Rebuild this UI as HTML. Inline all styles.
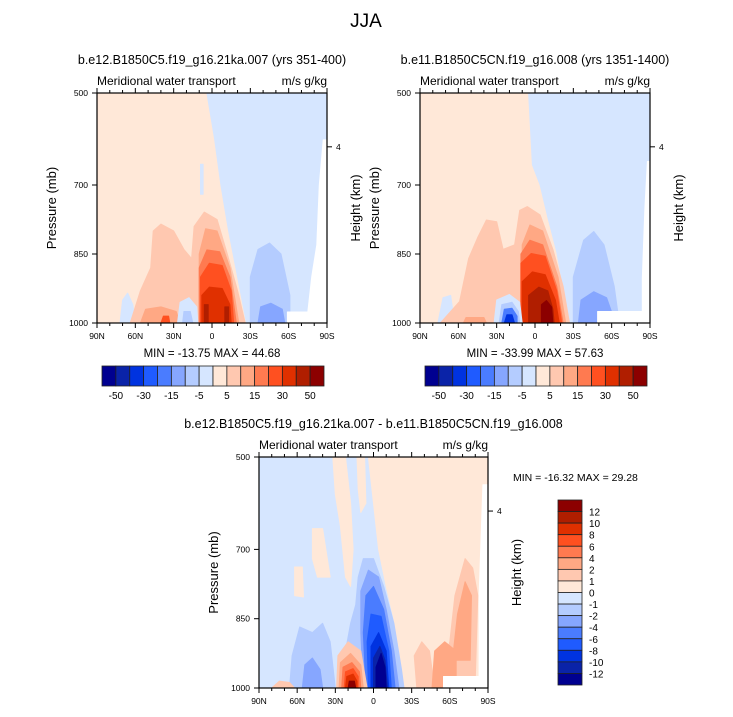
<!DOCTYPE html>
<html><head><meta charset="utf-8"><style>
body{margin:0;background:#fff;width:733px;height:712px;overflow:hidden}
svg{font-family:"Liberation Sans",Arial,sans-serif}
</style></head><body>
<svg id="s" width="733" height="712" xmlns="http://www.w3.org/2000/svg">
<text x="366" y="27" font-size="19" text-anchor="middle">JJA</text>
</svg>
<script>
const colors=["#000090","#0a23a8","#0033e0","#1f5bff","#4a7cff","#86a6ff","#b4ccff","#d6e6ff","#ffe8d8","#ffc8b0","#ffa884","#ff7a50","#ff5020","#e03000","#b01e00","#8c0000"];
const hLevels=["-50","-30","-15","-5","5","15","30","50"];
const vLevels=["12","10","8","6","4","2","1","0","-1","-2","-4","-6","-8","-10","-12"];
const latTicks=[90,60,30,0,-30,-60,-90];
const latLabels=["90N","60N","30N","0","30S","60S","90S"];
const pTicks=[500,700,850,1000];
// contour polygons: [level, [[lat,p],...]]
const field1=[
[8,[[90,500],[-90,500],[-90,1000],[90,1000]]],
[7,[[4,500],[-90,500],[-90,1000],[-27,1000],[-20,900],[-13,800],[-7,700],[-2,600],[4,500]]],
[7,[[9,655],[7,655],[7,720],[9,720]]],
[6,[[-30,1000],[-30,900],[-36,840],[-45,826],[-54,850],[-61,940],[-61,1000]]],
[5,[[-36,1000],[-38,965],[-46,957],[-55,970],[-57,1000]]],
[7,[[72,1000],[70,950],[66,935],[62,960],[60,1000]]],
[9,[[64,1000],[56,930],[48,880],[46,800],[40,785],[30,800],[22,840],[16,860],[14,790],[6,759],[-4,775],[-12,850],[-20,930],[-26,1000]]],
[10,[[56,1000],[52,970],[40,965],[28,975],[25,1000]]],
[10,[[10,1000],[10,850],[5,795],[-4,800],[-14,880],[-21,1000]]],
[11,[[10,1000],[10,880],[4,841],[-6,845],[-14,900],[-19,1000]]],
[12,[[9,1000],[9,900],[2,870],[-8,875],[-15,930],[-17,1000]]],
[13,[[8,1000],[8,940],[2,922],[-8,925],[-14,960],[-15,1000]]],
[14,[[6,1000],[6,960],[3,960],[3,1000]]],
[14,[[-10,1000],[-10,965],[-13,965],[-13,1000]]],
[7,[[27,1000],[25,955],[18,945],[12,965],[11,1000]]],
[6,[[23,1000],[22,975],[17,975],[15,1000]]],
[12,[[40,1000],[38,985],[34,985],[33,1000]]],
[-1,[[-87,602],[-90,602],[-90,1000],[-59,1000],[-59,976],[-75,976],[-78,900],[-82,830],[-84,700]]]
];
const field2=[
[8,[[90,500],[-90,500],[-90,1000],[90,1000]]],
[7,[[5,500],[-90,500],[-90,1000],[-27,1000],[-22,920],[-17,845],[-10,770],[-4,700],[2,656],[5,500]]],
[6,[[-30,1000],[-30,900],[-38,820],[-46,801],[-54,830],[-62,920],[-66,1000]]],
[5,[[-34,1000],[-36,950],[-46,932],[-56,945],[-63,1000]]],
[7,[[76,1000],[72,945],[66,940],[63,1000]]],
[9,[[74,1000],[59,953],[52,860],[45,815],[38,776],[30,780],[25,840],[16,830],[12,755],[6,747],[-4,765],[-14,840],[-22,920],[-27,1000]]],
[10,[[56,1000],[54,988],[40,988],[38,1000]]],
[10,[[10,1000],[10,830],[4,787],[-6,800],[-18,900],[-24,1000]]],
[11,[[11,1000],[11,850],[4,820],[-6,830],[-17,920],[-22,1000]]],
[12,[[11,1000],[11,870],[3,849],[-8,855],[-17,930],[-21,1000]]],
[13,[[10,1000],[10,910],[2,889],[-8,895],[-16,950],[-19,1000]]],
[14,[[5,1000],[5,940],[-3,922],[-10,930],[-14,970],[-15,1000]]],
[15,[[-5,1000],[-5,960],[-9,951],[-13,965],[-14,1000]]],
[7,[[32,1000],[30,950],[20,938],[12,955],[10,1000]]],
[6,[[28,1000],[26,960],[18,955],[13,975],[12,1000]]],
[4,[[26,1000],[24,970],[18,968],[14,985],[14,1000]]],
[2,[[24,1000],[22,982],[18,982],[16,1000]]],
[-1,[[-49,975],[-90,975],[-90,1000],[-49,1000]]],
[-1,[[-88,649],[-90,649],[-90,1000],[-84,1000],[-84,903],[-86,750]]]
];
const field3=[
[7,[[90,500],[-90,500],[-90,1000],[90,1000]]],
[8,[[4,500],[-90,500],[-90,1000],[-22,1000],[-20,950],[-16,850],[-10,780],[-4,700],[0,600],[4,500]]],
[8,[[32,500],[22,500],[18,600],[16,700],[18,780],[22,760],[26,650],[30,580]]],
[8,[[13,500],[7,500],[6,600],[10,620],[12,570]]],
[8,[[48,655],[40,655],[34,760],[44,760],[48,720]]],
[8,[[62,738],[56,738],[55,803],[62,800]]],
[9,[[-34,1000],[-32,930],[-38,900],[-44,920],[-48,1000]]],
[9,[[-50,1000],[-60,900],[-64,800],[-72,720],[-78,740],[-82,800],[-80,980],[-70,1000]]],
[10,[[-46,1000],[-48,920],[-56,900],[-65,920],[-65,1000]]],
[10,[[-62,940],[-66,840],[-72,770],[-77,800],[-76,940]]],
[6,[[66,1000],[64,930],[58,868],[48,880],[40,860],[34,900],[30,1000]]],
[5,[[56,1000],[54,950],[48,935],[42,960],[40,1000]]],
[6,[[20,1000],[22,920],[18,860],[14,820],[12,760],[8,720],[0,720],[-8,780],[-16,860],[-22,960],[-24,1000]]],
[5,[[8,1000],[10,880],[10,790],[4,745],[-4,760],[-10,830],[-16,920],[-20,1000]]],
[4,[[6,1000],[8,880],[6,800],[0,780],[-8,830],[-14,920],[-17,1000]]],
[3,[[4,1000],[5,900],[2,840],[-6,845],[-12,920],[-14,1000]]],
[2,[[2,1000],[2,910],[-4,880],[-10,920],[-12,1000]]],
[1,[[0,1000],[0,935],[-5,910],[-9,940],[-11,1000]]],
[0,[[-2,1000],[-2,955],[-6,925],[-9,955],[-10,1000]]],
[9,[[29,1000],[28,930],[20,900],[10,920],[5,1000]]],
[10,[[27,1000],[26,945],[18,925],[10,950],[8,1000]]],
[11,[[25,1000],[24,955],[17,945],[11,965],[10,1000]]],
[12,[[23,1000],[22,965],[16,958],[12,975],[12,1000]]],
[13,[[22,1000],[21,975],[16,970],[13,985],[13,1000]]],
[15,[[20,1000],[19,985],[15,985],[14,1000]]],
[9,[[80,1000],[74,985],[66,988],[62,1000]]],
[-1,[[-55,975],[-90,975],[-90,1000],[-55,1000]]],
[-1,[[-86,560],[-90,560],[-90,1000],[-83,1000],[-83,800]]]
];
const NS="http://www.w3.org/2000/svg";
const svg=document.getElementById('s');
function el(t,a,parent){const e=document.createElementNS(NS,t);for(const k in a)e.setAttribute(k,a[k]);(parent||svg).appendChild(e);return e;}
function txt(x,y,s,size,anchor,parent){const e=el('text',{x:x,y:y,'font-size':size,'text-anchor':anchor||'middle'},parent);e.textContent=s;return e;}
function panel(name,X0,Y0,W,H,field,title,mm){
  const g=el('g',{});
  
  
  const xs=lat=>X0+(90-lat)/180*W;
  const ys=p=>Y0+(p-500)/500*H;
  field.forEach(f=>{
    const pts=f[1].map(q=>xs(q[0]).toFixed(1)+','+ys(q[1]).toFixed(1)).join(' ');
    const c=f[0]<0?'#fff':colors[f[0]];
    const pg=el('polygon',{points:pts,fill:c,stroke:c,'stroke-width':1,'stroke-linejoin':'round'},g);
    
    
  });
  el('rect',{x:X0,y:Y0,width:W,height:H,fill:'none',stroke:'#000','stroke-width':1.2},g);
  for(let l=90;l>=-90;l-=10){const x=xs(l);const big=l%30===0;
    el('line',{x1:x,x2:x,y1:Y0+H,y2:Y0+H+(big?5:3),stroke:'#000'},g);
    el('line',{x1:x,x2:x,y1:Y0,y2:Y0-(big?5:3),stroke:'#000'},g);}
  latTicks.forEach((l,i)=>{const t=txt(xs(l),Y0+H+16,latLabels[i],8.5,'middle',g);});
  pTicks.forEach(p=>{el('line',{x1:X0-5,x2:X0,y1:ys(p),y2:ys(p),stroke:'#000'},g);
    const t=txt(X0-9,ys(p)+3,String(p),8.5,'end',g);});
  const y4=ys(617);el('line',{x1:X0+W,x2:X0+W+5,y1:y4,y2:y4,stroke:'#000'},g);txt(X0+W+9,y4+3,'4',8.5,'start',g);
  const yt=txt(X0-41,Y0+H/2,'Pressure (mb)',13,'middle',g);yt.setAttribute('transform',`rotate(-90 ${X0-41} ${Y0+H/2})`);
  
  const rt=txt(X0+W+33,Y0+H/2,'Height (km)',13,'middle',g);rt.setAttribute('transform',`rotate(-90 ${X0+W+33} ${Y0+H/2})`);
  
  txt(X0,Y0-8,'Meridional water transport',12,'start',g);
  txt(X0+W,Y0-8,'m/s g/kg',12,'end',g);
  const tt=txt(X0+W/2,Y0-29,title,12.5,'middle',g);
  if(mm){const m=txt(X0+W/2,Y0+H+34,mm,11.5,'middle',g);}
}
panel('panel-1',97,93,230,230,field1,'b.e12.B1850C5.f19_g16.21ka.007 (yrs 351-400)','MIN = -13.75  MAX =  44.68');
panel('panel-2',420,93,230,230,field2,'b.e11.B1850C5CN.f19_g16.008 (yrs 1351-1400)','MIN = -33.99  MAX =  57.63');
panel('panel-diff',259,457,229,231,field3,'b.e12.B1850C5.f19_g16.21ka.007 - b.e11.B1850C5CN.f19_g16.008',null);
const mm3=txt(513,481,'MIN = -16.32  MAX =  29.28',10.5,'start');

function hbar(name,x0,y0,w,h){
  const g=el('g',{});
  const bw=w/colors.length;
  colors.forEach((c,i)=>{const r=el('rect',{x:x0+i*bw,y:y0,width:bw,height:h,fill:c,stroke:'#222','stroke-width':0.8},g);
    });
  hLevels.forEach((s,i)=>{const t=txt(x0+(2*i+1)*bw,y0+h+13,s,10,'middle',g);});
}
hbar('colorbar-1',102,366,222,20);
hbar('colorbar-2',425,366,222,20);
(function(){
  const x0=558,y0=500,w=24,h=185;
  const g=el('g',{});
  const bh=h/colors.length;
  colors.slice().reverse().forEach((c,i)=>{const r=el('rect',{x:x0,y:y0+i*bh,width:w,height:bh,fill:c,stroke:'#222','stroke-width':0.8},g);
    });
  vLevels.forEach((s,i)=>{const t=txt(589,y0+(i+1)*bh+4,s,10,'start',g);});
})();
</script>
</body></html>
